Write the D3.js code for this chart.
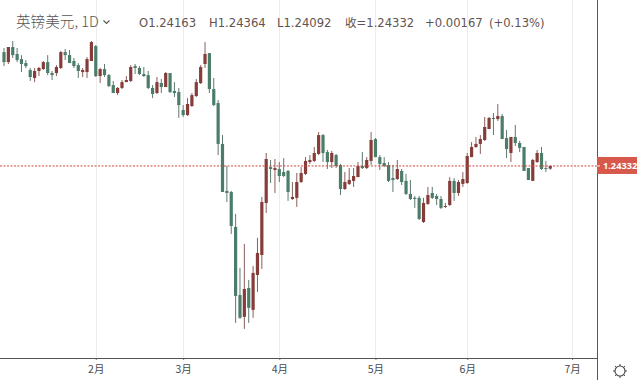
<!DOCTYPE html>
<html><head><meta charset="utf-8">
<script src="https://cdn.jsdelivr.net/npm/d3@7/dist/d3.min.js"></script>
<style>html,body{margin:0;padding:0;background:#fff;overflow:hidden}svg{display:block}</style>
</head><body><svg id="c" width="637" height="380"></svg>
<script>
const opens=[1.3151,1.3088,1.3183,1.3139,1.3107,1.3082,1.3038,1.2988,1.3032,1.3044,1.3088,1.3019,1.3019,1.3051,1.3151,1.3132,1.3095,1.3069,1.3025,1.3025,1.3095,1.3189,1.3000,1.3044,1.3006,1.2943,1.2893,1.2925,1.2962,1.2969,1.3063,1.3051,1.3013,1.3006,1.2925,1.2893,1.2956,1.2931,1.3019,1.2906,1.2899,1.2786,1.2754,1.2811,1.2874,1.2956,1.3076,1.3145,1.2918,1.2830,1.2572,1.2276,1.2269,1.2049,1.1620,1.1482,1.1664,1.1526,1.1746,1.1872,1.2200,1.2426,1.2408,1.2414,1.2395,1.2402,1.2225,1.2232,1.2332,1.2383,1.2458,1.2465,1.2509,1.2628,1.2521,1.2458,1.2502,1.2439,1.2288,1.2320,1.2339,1.2363,1.2433,1.2420,1.2465,1.2603,1.2489,1.2452,1.2439,1.2357,1.2351,1.2402,1.2339,1.2257,1.2232,1.2232,1.2080,1.2194,1.2263,1.2244,1.2225,1.2175,1.2187,1.2339,1.2263,1.2320,1.2326,1.2489,1.2553,1.2572,1.2597,1.2666,1.2736,1.2729,1.2748,1.2609,1.2515,1.2616,1.2578,1.2553,1.2420,1.2339,1.2458,1.2515,1.2420,1.24163];
const highs=[1.3177,1.3183,1.3221,1.3177,1.3132,1.3101,1.3051,1.3051,1.3057,1.3095,1.3132,1.3032,1.3069,1.3158,1.3170,1.3164,1.3114,1.3082,1.3051,1.3120,1.3221,1.3195,1.3051,1.3076,1.3013,1.2969,1.2931,1.2975,1.3000,1.3069,1.3076,1.3063,1.3057,1.3032,1.2943,1.2994,1.2981,1.3025,1.3019,1.2962,1.2925,1.2817,1.2861,1.2893,1.2981,1.3069,1.3214,1.3145,1.2988,1.2849,1.2628,1.2433,1.2276,1.2131,1.1791,1.1942,1.1715,1.1803,1.1980,1.2238,1.2515,1.2471,1.2477,1.2458,1.2483,1.2408,1.2332,1.2389,1.2426,1.2489,1.2502,1.2553,1.2647,1.2634,1.2534,1.2528,1.2509,1.2446,1.2395,1.2420,1.2420,1.2458,1.2521,1.2489,1.2647,1.2609,1.2502,1.2489,1.2458,1.2439,1.2471,1.2414,1.2383,1.2345,1.2244,1.2244,1.2232,1.2301,1.2301,1.2257,1.2244,1.2200,1.2363,1.2357,1.2345,1.2395,1.2515,1.2584,1.2616,1.2628,1.2742,1.2742,1.2767,1.2824,1.2761,1.2660,1.2616,1.2692,1.2591,1.2553,1.2420,1.2477,1.2534,1.2553,1.2465,1.24364];
const lows=[1.3063,1.3076,1.3114,1.3088,1.3025,1.3051,1.2969,1.2962,1.3000,1.3038,1.3006,1.2975,1.3000,1.3044,1.3101,1.3082,1.3051,1.2988,1.2994,1.2988,1.3095,1.2994,1.2956,1.2994,1.2931,1.2893,1.2880,1.2918,1.2962,1.2962,1.3013,1.3006,1.2994,1.2918,1.2861,1.2887,1.2893,1.2931,1.2893,1.2868,1.2736,1.2742,1.2748,1.2805,1.2868,1.2950,1.3051,1.2893,1.2811,1.2502,1.2269,1.2206,1.2005,1.1444,1.1469,1.1406,1.1444,1.1476,1.1639,1.1784,1.2137,1.2326,1.2263,1.2332,1.2363,1.2213,1.2219,1.2175,1.2326,1.2376,1.2446,1.2458,1.2502,1.2458,1.2414,1.2420,1.2420,1.2250,1.2282,1.2313,1.2301,1.2363,1.2414,1.2414,1.2439,1.2489,1.2408,1.2426,1.2332,1.2269,1.2345,1.2313,1.2250,1.2219,1.2169,1.2093,1.2074,1.2187,1.2225,1.2187,1.2162,1.2169,1.2181,1.2213,1.2244,1.2301,1.2320,1.2489,1.2547,1.2509,1.2591,1.2666,1.2628,1.2717,1.2603,1.2483,1.2458,1.2559,1.2521,1.2402,1.2345,1.2339,1.2452,1.2408,1.2395,1.24092];
const closes=[1.3088,1.3183,1.3132,1.3101,1.3076,1.3063,1.2994,1.3032,1.3051,1.3088,1.3019,1.3006,1.3057,1.3151,1.3132,1.3082,1.3063,1.3032,1.3038,1.3107,1.3214,1.3000,1.3044,1.3006,1.2937,1.2893,1.2925,1.2962,1.2975,1.3057,1.3051,1.3013,1.3000,1.2925,1.2887,1.2962,1.2931,1.3019,1.2899,1.2893,1.2817,1.2754,1.2824,1.2880,1.2962,1.3057,1.3139,1.2918,1.2817,1.2572,1.2269,1.2263,1.2055,1.1614,1.1476,1.1658,1.1539,1.1759,1.1885,1.2206,1.2477,1.2414,1.2420,1.2370,1.2370,1.2269,1.2238,1.2332,1.2389,1.2465,1.2471,1.2515,1.2628,1.2515,1.2458,1.2515,1.2433,1.2288,1.2332,1.2345,1.2370,1.2433,1.2420,1.2471,1.2597,1.2489,1.2446,1.2433,1.2339,1.2345,1.2414,1.2332,1.2257,1.2225,1.2225,1.2099,1.2200,1.2250,1.2232,1.2225,1.2169,1.2181,1.2339,1.2263,1.2332,1.2351,1.2496,1.2553,1.2572,1.2603,1.2679,1.2736,1.2729,1.2748,1.2603,1.2540,1.2616,1.2578,1.2547,1.2402,1.2345,1.2471,1.2515,1.2414,1.2414,1.24332];
const monthLabels=["2月","3月","4月","5月","6月","7月"];
const monthIndex=[21,41,63,85,106,130];
const symbolName="英镑美元, 1D";
const ohlcLabels=["O1.24163","H1.24364","L1.24092","收=1.24332","+0.00167","(+0.13%)"];
const lastPriceLabel="1.24332";

const svg=d3.select("#c");
const W=637,H=380,plotR=597,axisY=358;
const x=d3.scaleLinear().domain([0,125]).range([4,550.25]);
const y=d3.scaleLinear().domain([1.2433,1.3221]).range([166,41]);
const up="#863c39",down="#4b7d69",upW="#8a5f5c",downW="#5d7a6e";

svg.append("g").selectAll("line").data(monthIndex).join("line")
  .attr("x1",d=>Math.round(x(d))+0.5).attr("x2",d=>Math.round(x(d))+0.5)
  .attr("y1",0).attr("y2",axisY).attr("stroke","#ececec");

const idx=d3.range(opens.length);
const g=svg.append("g");
g.selectAll(".w").data(idx).join("line").attr("class","w")
  .attr("x1",i=>x(i)).attr("x2",i=>x(i))
  .attr("y1",i=>y(highs[i])).attr("y2",i=>y(lows[i]))
  .attr("stroke",i=>closes[i]>=opens[i]?upW:downW).attr("stroke-width",1);
g.selectAll(".b").data(idx).join("rect").attr("class","b")
  .attr("x",i=>x(i)-1.6).attr("width",3.2)
  .attr("y",i=>y(Math.max(opens[i],closes[i])))
  .attr("height",i=>Math.max(1,Math.abs(y(opens[i])-y(closes[i]))))
  .attr("fill",i=>closes[i]>=opens[i]?up:down);

const last=closes[closes.length-1];
svg.append("line").attr("x1",0).attr("x2",plotR).attr("y1",y(last)).attr("y2",y(last))
  .attr("stroke","#d0483e").attr("stroke-width",1).attr("stroke-dasharray","2 1.5");

const ax=d3.axisBottom(d3.scaleLinear().domain(x.domain()).range(x.range()))
  .tickValues(monthIndex).tickFormat((d,i)=>monthLabels[i]).tickSize(2).tickPadding(6);
const ag=svg.append("g").attr("transform",`translate(0,${axisY})`).call(ax);
ag.select(".domain").remove();
ag.selectAll("line").attr("stroke","#777");
ag.selectAll("text").attr("fill","#4a4a4a").attr("font-family","'Noto Sans CJK SC',sans-serif").attr("font-size",10.5);
svg.append("line").attr("x1",0).attr("x2",plotR).attr("y1",axisY+.5).attr("y2",axisY+.5).attr("stroke","#555");
svg.append("line").attr("x1",plotR+.5).attr("x2",plotR+.5).attr("y1",0).attr("y2",H).attr("stroke","#555");

svg.append("rect").attr("x",plotR).attr("y",y(last)-9).attr("width",W-plotR).attr("height",17).attr("fill","#d6594c");
svg.append("line").attr("x1",plotR).attr("x2",plotR+3).attr("y1",y(last)).attr("y2",y(last)).attr("stroke","#fff");
svg.append("text").attr("x",603).attr("y",y(last)+3).text(lastPriceLabel)
  .attr("fill","#fff").attr("font-family","'Open Sans',sans-serif").attr("font-weight",700).attr("font-size",9.2);

svg.append("text").attr("x",16).attr("y",27).text(symbolName).attr("fill","#555")
  .attr("font-family","'Noto Sans CJK SC',sans-serif").attr("font-size",14.6).attr("font-weight",300);
svg.append("path").attr("d","M103.5 20.5l3 3 3-3").attr("fill","none").attr("stroke","#555").attr("stroke-width",1.1);
const hx=[139,209,277,345,425,489];
svg.append("g").selectAll("text").data(ohlcLabels).join("text")
  .attr("x",(d,i)=>hx[i]).attr("y",27).text(d=>d)
  .attr("fill","#5f5350").attr("font-family","'DejaVu Sans','Noto Sans CJK SC',sans-serif").attr("font-size",11.6);

const gear=svg.append("g").attr("transform","translate(620,371)");
gear.append("circle").attr("r",5).attr("fill","none").attr("stroke","#444").attr("stroke-width",1.1);
gear.selectAll("line").data(d3.range(8)).join("line")
  .attr("x1",d=>5*Math.cos(d*Math.PI/4)).attr("y1",d=>5*Math.sin(d*Math.PI/4))
  .attr("x2",d=>7*Math.cos(d*Math.PI/4)).attr("y2",d=>7*Math.sin(d*Math.PI/4))
  .attr("stroke","#444").attr("stroke-width",1);
</script></body></html>
